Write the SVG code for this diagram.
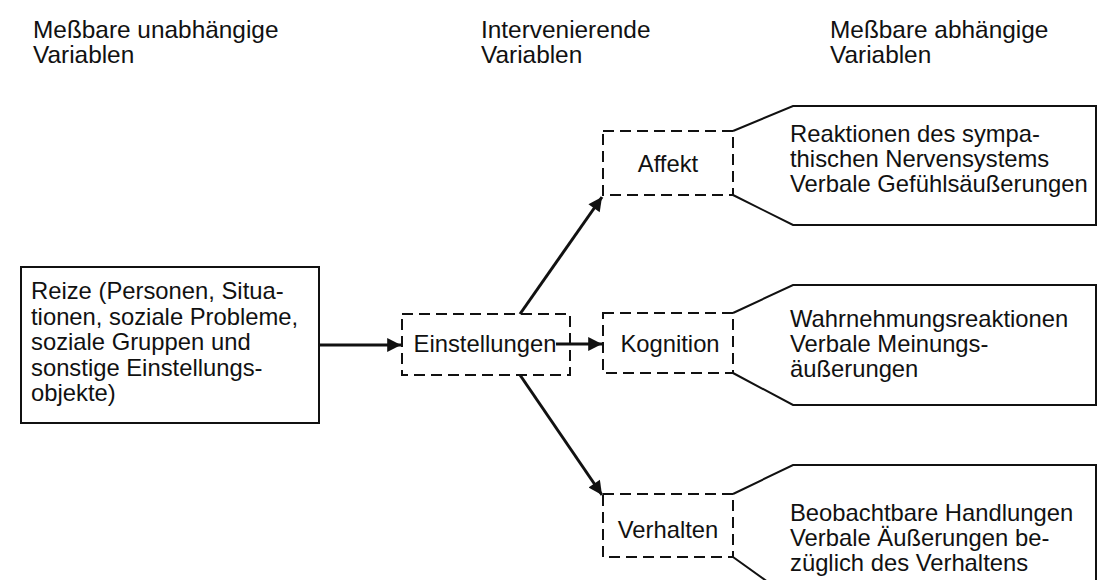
<svg xmlns="http://www.w3.org/2000/svg" width="1097" height="580" viewBox="0 0 1097 580">
<defs>
<style>
text{font-family:"Liberation Sans",Arial,Helvetica,sans-serif;font-size:23.8px;fill:#111}
.hd{font-size:24.4px}
.solid{fill:#fff;stroke:#111;stroke-width:2}
.dash{fill:none;stroke:#111;stroke-width:2;stroke-dasharray:11 6}
.call{fill:#fff;stroke:#111;stroke-width:2}
.conn{stroke:#111;stroke-width:3;fill:none}
.c{text-anchor:middle}
</style>
<marker id="ah" viewBox="0 0 10 10" refX="10" refY="5" markerWidth="5.4" markerHeight="4.6" orient="auto" markerUnits="strokeWidth">
<path d="M0,0 L10,5 L0,10 Z" fill="#111"/>
</marker>
</defs>
<rect width="1097" height="580" fill="#fff"/>
<g id="headers">
<text class="hd" x="33" y="38">Meßbare unabhängige</text>
<text class="hd" x="33" y="63">Variablen</text>
<text class="hd" x="481" y="38">Intervenierende</text>
<text class="hd" x="481" y="63">Variablen</text>
<text class="hd" x="830" y="38">Meßbare abhängige</text>
<text class="hd" x="830" y="63">Variablen</text>
</g>
<g id="reize">
<rect class="solid" x="21" y="267" width="298" height="156"/>
<text x="31" y="299">Reize (Personen, Situa-</text>
<text x="31" y="324.5">tionen, soziale Probleme,</text>
<text x="31" y="350">soziale Gruppen und</text>
<text x="31" y="375.5">sonstige Einstellungs-</text>
<text x="31" y="401">objekte)</text>
</g>
<g id="einstellungen">
<rect class="dash" x="402" y="314" width="168" height="61"/>
<text class="c" x="485" y="352">Einstellungen</text>
</g>
<g id="affekt">
<path class="call" d="M733,131 L793,106 L1096,106 L1096,225 L793,225 L733,195"/>
<rect class="dash" x="603" y="131" width="130" height="64"/>
<text class="c" x="668" y="172">Affekt</text>
<text x="790" y="142">Reaktionen des sympa-</text>
<text x="790" y="167">thischen Nervensystems</text>
<text x="790" y="192">Verbale Gefühlsäußerungen</text>
</g>
<g id="kognition">
<path class="call" d="M733,313 L793,285 L1096,285 L1096,405 L793,405 L733,373"/>
<rect class="dash" x="603" y="313" width="130" height="60"/>
<text class="c" x="670" y="352">Kognition</text>
<text x="790" y="327">Wahrnehmungsreaktionen</text>
<text x="790" y="352">Verbale Meinungs-</text>
<text x="790" y="377">äußerungen</text>
</g>
<g id="verhalten">
<path class="call" d="M733,494 L793,465 L1096,465 L1096,600 L793,600 L733,557"/>
<rect class="dash" x="603" y="494" width="130" height="63"/>
<text class="c" x="668" y="538">Verhalten</text>
<text x="790" y="521">Beobachtbare Handlungen</text>
<text x="790" y="546">Verbale Äußerungen be-</text>
<text x="790" y="571">züglich des Verhaltens</text>
</g>
<g id="connectors">
<line class="conn" x1="319" y1="345" x2="401" y2="345" marker-end="url(#ah)"/>
<line class="conn" x1="556" y1="344" x2="602" y2="344" marker-end="url(#ah)"/>
<line class="conn" x1="520" y1="314" x2="602" y2="197" marker-end="url(#ah)"/>
<line class="conn" x1="520" y1="375" x2="602" y2="495" marker-end="url(#ah)"/>
</g>
</svg>
